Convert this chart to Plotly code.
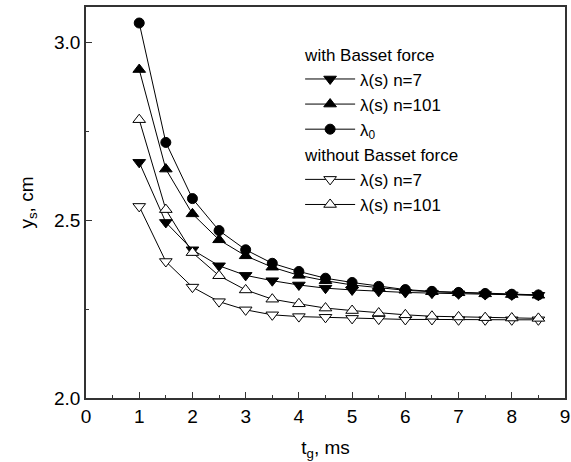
import plotly.graph_objects as go

t_g = [1, 1.5, 2, 2.5, 3, 3.5, 4, 4.5, 5, 5.5, 6, 6.5, 7, 7.5, 8, 8.5]

with_n7 = [2.663, 2.494, 2.417, 2.372, 2.345, 2.330, 2.318, 2.309, 2.304, 2.300, 2.297, 2.295, 2.293, 2.291, 2.290, 2.289]
with_n101 = [2.924, 2.644, 2.518, 2.445, 2.400, 2.368, 2.345, 2.330, 2.318, 2.310, 2.303, 2.299, 2.296, 2.293, 2.291, 2.289]
with_l0 = [3.055, 2.719, 2.561, 2.471, 2.417, 2.379, 2.356, 2.337, 2.325, 2.314, 2.305, 2.300, 2.297, 2.294, 2.292, 2.290]
without_n7 = [2.539, 2.384, 2.312, 2.271, 2.248, 2.234, 2.229, 2.227, 2.224, 2.222, 2.221, 2.221, 2.220, 2.220, 2.220, 2.220]
without_n101 = [2.783, 2.530, 2.409, 2.344, 2.304, 2.278, 2.265, 2.253, 2.246, 2.239, 2.234, 2.230, 2.228, 2.226, 2.225, 2.224]

series = [
    ("with", "with Basset force", "λ(s) n=7", with_n7, "triangle-down", "black", 11),
    ("with", "with Basset force", "λ(s) n=101", with_n101, "triangle-up", "black", 11),
    ("with", "with Basset force", "λ<sub>0</sub>", with_l0, "circle", "black", 10),
    ("without", "without Basset force", "λ(s) n=7", without_n7, "triangle-down", "white", 11),
    ("without", "without Basset force", "λ(s) n=101", without_n101, "triangle-up", "white", 11),
]

fig = go.Figure()
for grp, gtitle, name, ys, sym, fill, size in series:
    fig.add_trace(go.Scatter(
        x=t_g, y=ys, mode="lines+markers", name=name,
        legendgroup=grp, legendgrouptitle=dict(text=gtitle, font=dict(size=17, color="black")),
        line=dict(color="black", width=1),
        marker=dict(symbol=sym, size=size, color=fill, line=dict(color="black", width=1)),
    ))

axis_common = dict(
    showgrid=False, zeroline=False, showline=True, linecolor="#333", linewidth=1.5,
    mirror=True, ticks="inside", ticklen=6, tickwidth=1, tickcolor="#333",
    tickfont=dict(size=19, color="black"), automargin=False,
)

fig.update_xaxes(range=[0, 9], dtick=1, tick0=0,
                 minor=dict(ticks="inside", ticklen=3, dtick=0.5, tickcolor="#333"),
                 title=dict(text="t<sub>g</sub>, ms", font=dict(size=19, color="black")),
                 **axis_common)
fig.update_yaxes(range=[2.0, 3.1], dtick=0.5, tick0=2.0, tickformat=".1f",
                 minor=dict(ticks="inside", ticklen=3, dtick=0.25, tickcolor="#333"),
                 title=dict(text="y<sub>s</sub>, cm", font=dict(size=19, color="black")),
                 **axis_common)

fig.update_layout(
    width=571, height=462,
    margin=dict(l=86, r=6, t=7, b=64),
    plot_bgcolor="white", paper_bgcolor="white",
    font=dict(family="Liberation Sans, Arial, sans-serif", color="black"),
    legend=dict(x=0.447, y=0.925, xanchor="left", yanchor="top",
                font=dict(size=17, color="black"), bgcolor="rgba(0,0,0,0)",
                tracegroupgap=0, itemwidth=50, traceorder="grouped"),
)

fig.write_html("out.html", config={"displayModeBar": False},
               post_script="document.body.style.margin='0';document.body.style.overflow='hidden';")
